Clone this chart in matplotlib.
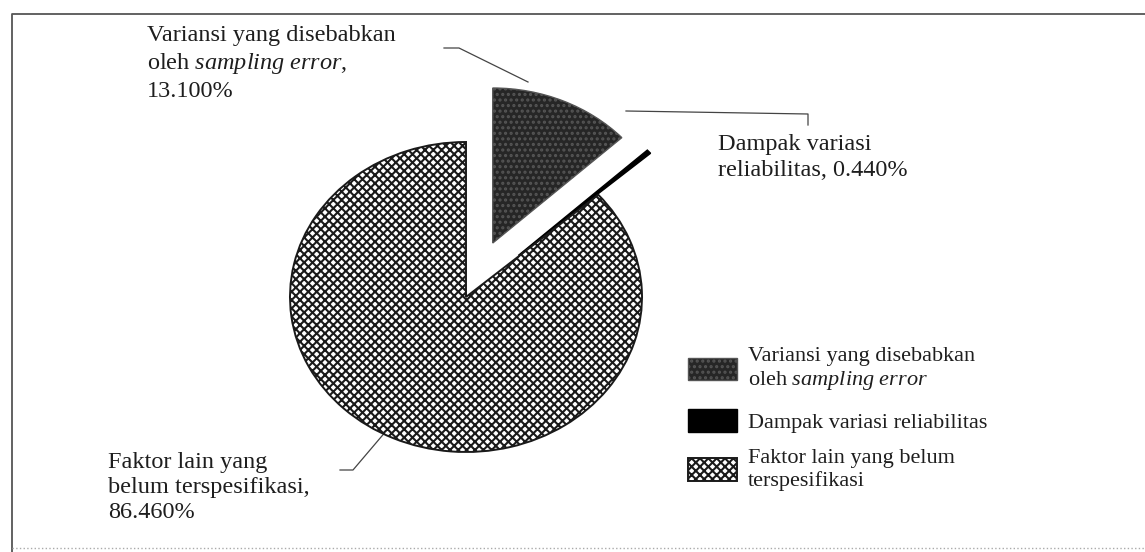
import matplotlib.pyplot as plt

plt.rcParams['font.family'] = ['Liberation Serif', 'DejaVu Serif']
plt.rcParams['mathtext.fontset'] = 'custom'
plt.rcParams['mathtext.rm'] = 'Liberation Serif'
plt.rcParams['mathtext.it'] = 'Liberation Serif:italic'
plt.rcParams['hatch.linewidth'] = 1.5

# data
values = [13.100, 0.440, 86.460]
legend_names = ['Variansi yang disebabkan\noleh $\\mathit{sampling\\ error}$',
                'Dampak variasi reliabilitas',
                'Faktor lain yang belum\nterspesifikasi']
callout_names = ['Variansi yang disebabkan\noleh $\\mathit{sampling\\ error}$,',
                 'Dampak variasi\nreliabilitas,',
                 'Faktor lain yang\nbelum terspesifikasi,']
callout_sep = ['\n', ' ', '\n']

W, H = 1145, 552
fig = plt.figure(figsize=(W / 100, H / 100), dpi=100)

# overlay in pixel coords for frame, callouts and legend
ov = fig.add_axes([0, 0, 1, 1])
ov.set_xlim(0, W)
ov.set_ylim(H, 0)
ov.axis('off')
ov.patch.set_visible(False)

# pie, slightly wider than tall like the scan
SX, SY = 176, 155
cx, cy = 466, 297
lim = 1.4
ax = fig.add_axes([(cx - lim * SX) / W, (H - cy - lim * SY) / H,
                   2 * lim * SX / W, 2 * lim * SY / H])
wedges, _ = ax.pie(values, startangle=90, counterclock=False,
                   explode=[0.38, 0.40, 0.0], radius=1.0)
ax.set_xlim(-lim, lim)
ax.set_ylim(-lim, lim)
ax.set_aspect('auto')
ax.axis('off')

styles = [dict(facecolor='#262626', edgecolor='#555555', hatch='...', linewidth=1.0),
          dict(facecolor='black', edgecolor='black', hatch=None, linewidth=1.0),
          dict(facecolor='white', edgecolor='#1a1a1a', hatch='xxxx', linewidth=1.4)]
for w, st in zip(wedges, styles):
    w.set_facecolor(st['facecolor'])
    w.set_edgecolor(st['edgecolor'])
    w.set_linewidth(st['linewidth'])
    if st['hatch']:
        w.set_hatch(st['hatch'])

# frame
ov.plot([12, 12, W], [H, 14, 14], color='#555555', lw=1.3)
ov.plot([12, W], [548, 548], color='#aaaaaa', lw=1.0, ls=':')

# callout labels
fs = 17.5
texts = [name + sep + '{:.3f}%'.format(v)
         for name, sep, v in zip(callout_names, callout_sep, values)]
ov.text(147, 25, texts[0], fontsize=fs, va='top', ha='left', linespacing=1.3, color='#1e1e1e')
ov.text(718, 134, texts[1], fontsize=fs, va='top', ha='left', linespacing=1.3, color='#1e1e1e')
ov.text(108, 452, texts[2], fontsize=fs, va='top', ha='left', linespacing=1.25, color='#1e1e1e')

lc = dict(color='#444444', lw=0.9)
ov.plot([444, 459, 528], [48, 48, 82], **lc)
ov.plot([626, 808, 808], [111, 114, 125], **lc)
ov.plot([340, 353, 387], [470, 470, 430], **lc)

# legend
ov.legend(wedges, legend_names, loc='upper left', bbox_to_anchor=(688, 347),
          bbox_transform=ov.transData, frameon=False, fontsize=16,
          handlelength=2.2, handleheight=1.2, labelspacing=0.75,
          handletextpad=0.5, borderaxespad=0, borderpad=0, labelcolor='#1e1e1e')

fig.savefig('out.png', dpi=100)
